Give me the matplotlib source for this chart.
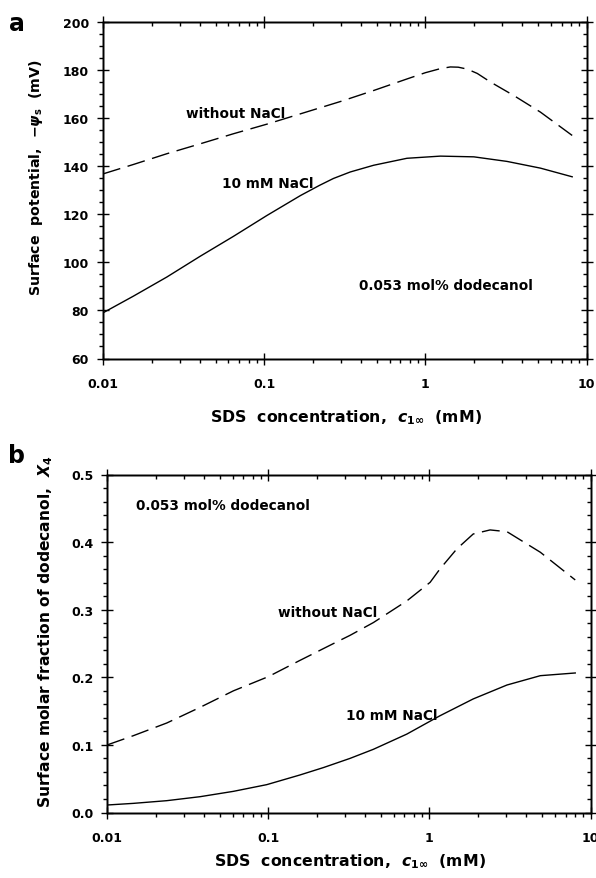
import matplotlib
matplotlib.use("Agg")
import matplotlib.pyplot as plt
from matplotlib.ticker import MultipleLocator, LogLocator, NullFormatter

plt.rcParams['font.family'] = ['DejaVu Sans']
plt.rcParams['font.weight'] = 'bold'
plt.rcParams['mathtext.fontset'] = 'custom'
plt.rcParams['mathtext.rm'] = 'DejaVu Sans:bold'
plt.rcParams['mathtext.bf'] = 'DejaVu Sans:bold'
plt.rcParams['mathtext.it'] = 'DejaVu Sans:italic:bold'

# ---------------- data ----------------
# panel a: surface potential -psi_s (mV)
a_noNaCl_x = [0.01, 0.0154, 0.0249, 0.04, 0.0644, 0.104, 0.168, 0.3, 0.478, 0.769,
              1.0, 1.24, 1.43, 1.6, 1.82, 2.1, 2.54, 3.54, 5.18, 8.15]
a_noNaCl_y = [136.8, 140.7, 145.2, 149.3, 153.5, 157.5, 161.8, 167.0, 171.5, 176.3,
              178.9, 180.6, 181.3, 181.2, 180.4, 178.6, 175.0, 169.4, 162.5, 152.8]
a_NaCl_x = [0.01, 0.0154, 0.0249, 0.04, 0.0644, 0.104, 0.168, 0.22, 0.269, 0.342, 0.478,
            0.769, 1.24, 2.0, 3.21, 5.18, 8.15]
a_NaCl_y = [79.0, 85.9, 93.9, 102.5, 110.8, 119.5, 127.8, 132.0, 134.9, 137.6, 140.4,
            143.3, 144.2, 143.9, 142.0, 139.2, 135.6]

# panel b: surface molar fraction of dodecanol X4
b_noNaCl_x = [0.01, 0.0145, 0.0234, 0.0377, 0.0607, 0.1, 0.157, 0.254, 0.321, 0.449,
              0.724, 1.01, 1.16, 1.48, 1.87, 2.38, 3.03, 4.88, 8.04]
b_noNaCl_y = [0.100, 0.1136, 0.1324, 0.1556, 0.180, 0.201, 0.225, 0.250, 0.262, 0.281,
              0.313, 0.3405, 0.360, 0.390, 0.412, 0.418, 0.4154, 0.385, 0.344]
b_NaCl_x = [0.01, 0.0145, 0.0234, 0.0377, 0.0607, 0.0977, 0.157, 0.22, 0.321, 0.449,
            0.724, 1.16, 1.87, 3.03, 4.88, 8.04]
b_NaCl_y = [0.0111, 0.0135, 0.0175, 0.0234, 0.0313, 0.0412, 0.0555, 0.0665, 0.080, 0.0935,
            0.116, 0.143, 0.168, 0.1886, 0.2024, 0.2064]

xticks = [0.01, 0.1, 1, 10]
xticklabels = ['0.01', '0.1', '1', '10']
a_yticks = [60, 80, 100, 120, 140, 160, 180, 200]
b_yticks = [0.0, 0.1, 0.2, 0.3, 0.4, 0.5]
b_yticklabels = ['0.0', '0.1', '0.2', '0.3', '0.4', '0.5']

W, H = 596, 879
fig = plt.figure(figsize=(W / 100, H / 100), dpi=100)


def px_axes(l, t, r, b):
    return fig.add_axes([l / W, 1 - b / H, (r - l) / W, (b - t) / H])


def fx(x):
    return x / W


def fy(y):
    return 1 - y / H


TICK_FS = 9
LW = 1.0
DASH = (13, 5.5)


def style_axes(ax, ylim, yticks, yticklabels, yminor):
    ax.set_xscale('log')
    ax.set_xlim(0.01, 10)
    ax.set_ylim(*ylim)
    ax.set_xticks(xticks)
    ax.set_xticklabels(xticklabels)
    ax.xaxis.set_minor_locator(LogLocator(base=10, subs=range(2, 10)))
    ax.xaxis.set_minor_formatter(NullFormatter())
    ax.set_yticks(yticks)
    ax.set_yticklabels(yticklabels)
    ax.yaxis.set_minor_locator(MultipleLocator(yminor))
    for s in ax.spines.values():
        s.set_linewidth(1.0)
    ax.tick_params(which='major', direction='inout', length=8, width=1.0,
                   labelsize=TICK_FS, top=False, right=False)
    ax.tick_params(which='minor', direction='out', length=3, width=1.0,
                   top=False, right=False)
    ax.tick_params(axis='x', which='major', pad=9)
    ax.tick_params(axis='y', which='major', pad=6)
    for lab in ax.get_xticklabels() + ax.get_yticklabels():
        lab.set_fontweight('bold')
    # mirrored ticks on top / right (minor pointing inward)
    axr = ax.twinx()
    axr.set_ylim(*ylim)
    axr.set_yticks(yticks)
    axr.yaxis.set_minor_locator(MultipleLocator(yminor))
    axr.tick_params(which='major', direction='inout', length=8, width=1.0, labelright=False)
    axr.tick_params(which='minor', direction='in', length=3, width=1.0)
    axt = ax.twiny()
    axt.set_xscale('log')
    axt.set_xlim(0.01, 10)
    axt.set_xticks(xticks)
    axt.xaxis.set_minor_locator(LogLocator(base=10, subs=range(2, 10)))
    axt.xaxis.set_minor_formatter(NullFormatter())
    axt.tick_params(which='major', direction='inout', length=8, width=1.0, labeltop=False)
    axt.tick_params(which='minor', direction='in', length=3, width=1.0)
    for s in list(axr.spines.values()) + list(axt.spines.values()):
        s.set_linewidth(1.0)


# ---------------- panel a ----------------
axa = px_axes(103, 23, 586.5, 359.5)
axa.plot(a_noNaCl_x, a_noNaCl_y, color='black', lw=LW, dashes=DASH)
axa.plot(a_NaCl_x, a_NaCl_y, color='black', lw=LW)
style_axes(axa, (60, 200), a_yticks, [str(v) for v in a_yticks], 5)

fig.text(fx(236), fy(114), 'without NaCl', ha='center', va='center', fontsize=9.8, fontweight='bold')
fig.text(fx(268), fy(184), '10 mM NaCl', ha='center', va='center', fontsize=9.8, fontweight='bold')
fig.text(fx(446), fy(286), '0.053 mol% dodecanol', ha='center', va='center', fontsize=9.8, fontweight='bold')
fig.text(fx(346), fy(418), r'SDS  concentration,  $c_{1\infty}$  (mM)', ha='center', va='center',
         fontsize=11.3, fontweight='bold')
fig.text(fx(36), fy(178), r'Surface  potential,  $-\psi_{\mathrm{s}}$  (mV)', ha='center', va='center',
         rotation=90, fontsize=10.2, fontweight='bold')
fig.text(fx(17), fy(24), 'a', ha='center', va='center', fontsize=17, fontweight='bold')

# ---------------- panel b ----------------
axb = px_axes(107.3, 475.5, 590.5, 813.5)
axb.plot(b_noNaCl_x, b_noNaCl_y, color='black', lw=LW, dashes=DASH)
axb.plot(b_NaCl_x, b_NaCl_y, color='black', lw=LW)
style_axes(axb, (0, 0.5), b_yticks, b_yticklabels, 0.02)

fig.text(fx(222.5), fy(506), '0.053 mol% dodecanol', ha='center', va='center', fontsize=9.8, fontweight='bold')
fig.text(fx(328), fy(613), 'without NaCl', ha='center', va='center', fontsize=9.8, fontweight='bold')
fig.text(fx(392), fy(716), '10 mM NaCl', ha='center', va='center', fontsize=9.8, fontweight='bold')
fig.text(fx(350), fy(862), r'SDS  concentration,  $c_{1\infty}$  (mM)', ha='center', va='center',
         fontsize=11.3, fontweight='bold')
fig.text(fx(46), fy(632), r'Surface molar fraction of dodecanol,  $X_4$', ha='center', va='center',
         rotation=90, fontsize=11.2, fontweight='bold')
fig.text(fx(17), fy(456), 'b', ha='center', va='center', fontsize=17, fontweight='bold')

fig.savefig('out.png', dpi=100)
